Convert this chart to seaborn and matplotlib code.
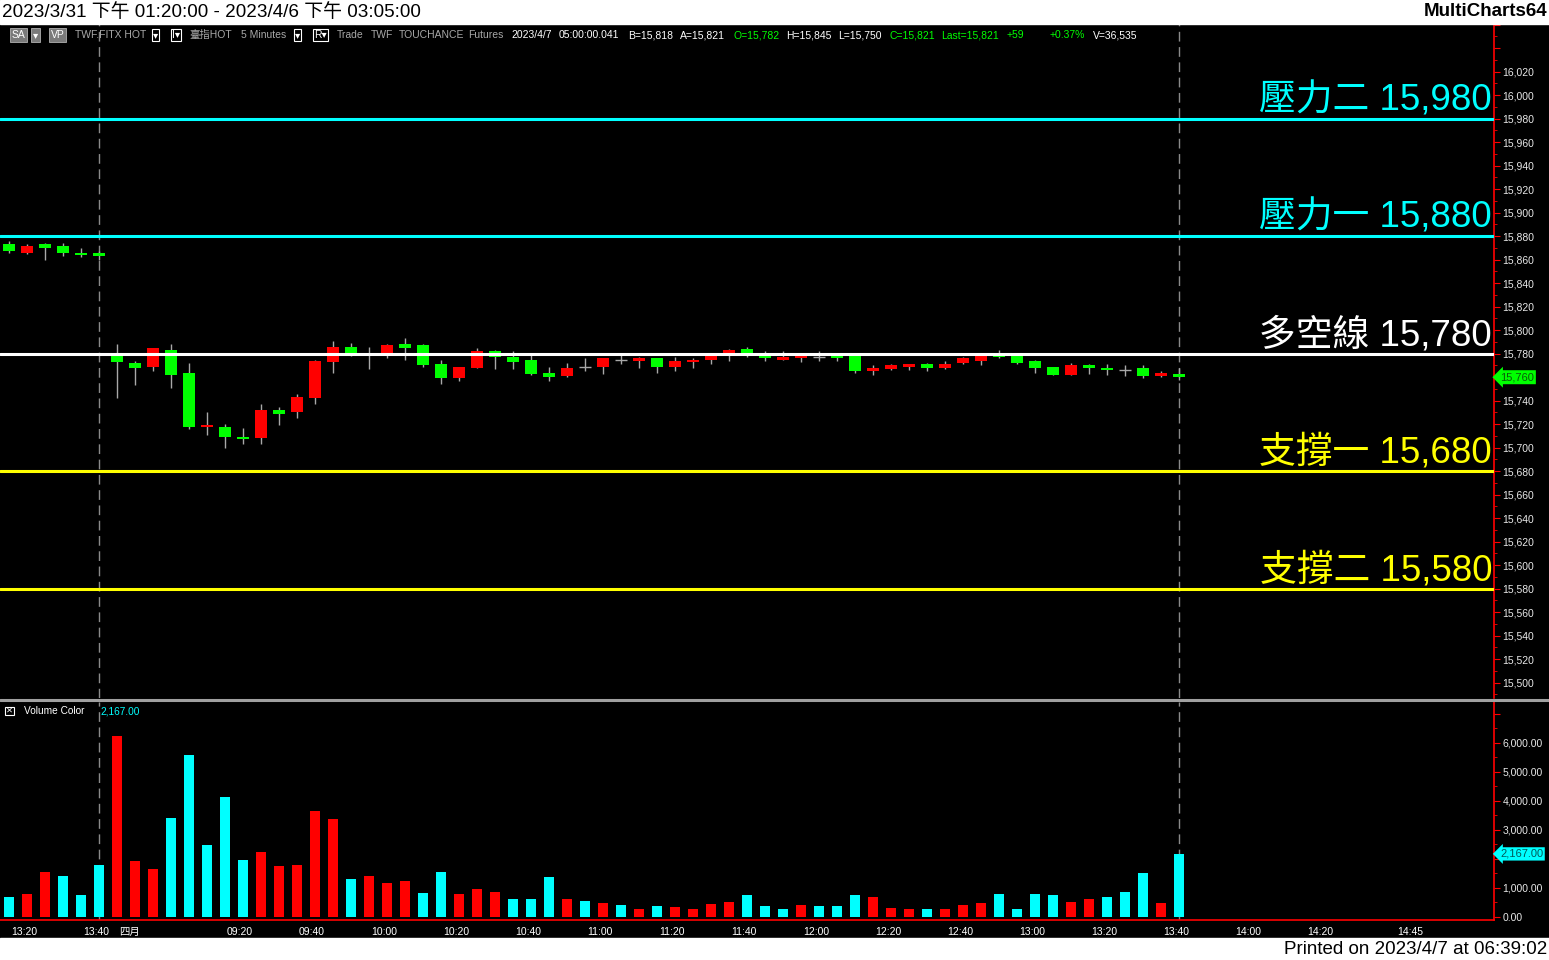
import numpy as np
import pandas as pd
import matplotlib
matplotlib.use("Agg")
import matplotlib.pyplot as plt
import matplotlib.transforms as mtransforms
from matplotlib.lines import Line2D
from matplotlib.patches import Rectangle
from matplotlib.ticker import FuncFormatter, MultipleLocator
import seaborn as sns

# 5 minute bars: 6 bars of 3/31 afternoon, then 4/6 from 08:50
opens = [15873, 15866, 15873, 15872, 15866, 15866,
         15778, 15772, 15769, 15783, 15764, 15718, 15718, 15709, 15708, 15732,
         15730, 15742, 15773, 15786, 15781, 15779, 15788, 15787, 15771, 15759,
         15768, 15782, 15777, 15775, 15764, 15761, 15769, 15769, 15775, 15774,
         15776, 15769, 15773, 15775, 15779, 15784, 15779, 15775, 15776, 15777,
         15779, 15778, 15765, 15767, 15769, 15771, 15768, 15772, 15774, 15779,
         15779, 15774, 15769, 15762, 15770, 15768, 15766, 15768, 15761, 15763]
highs = [15876, 15873, 15874, 15874, 15870, 15867,
         15788, 15774, 15785, 15788, 15772, 15730, 15720, 15717, 15737, 15735,
         15746, 15775, 15791, 15789, 15786, 15788, 15793, 15788, 15775, 15769,
         15785, 15783, 15782, 15779, 15769, 15772, 15776, 15776, 15779, 15777,
         15776, 15777, 15776, 15781, 15784, 15786, 15782, 15782, 15779, 15782,
         15780, 15780, 15770, 15771, 15771, 15772, 15774, 15777, 15780, 15783,
         15780, 15775, 15769, 15772, 15771, 15771, 15770, 15770, 15765, 15768]
lows = [15866, 15865, 15860, 15863, 15862, 15860,
        15742, 15753, 15765, 15751, 15716, 15711, 15700, 15703, 15703, 15719,
        15725, 15737, 15764, 15778, 15767, 15776, 15775, 15769, 15754, 15757,
        15768, 15767, 15767, 15762, 15757, 15760, 15765, 15763, 15771, 15768,
        15764, 15765, 15768, 15771, 15774, 15777, 15774, 15775, 15773, 15774,
        15774, 15764, 15762, 15766, 15766, 15765, 15767, 15771, 15770, 15776,
        15771, 15764, 15762, 15762, 15763, 15762, 15761, 15759, 15760, 15758]
closes = [15867, 15872, 15870, 15866, 15864, 15863,
          15773, 15768, 15785, 15762, 15718, 15719, 15709, 15707, 15732, 15729,
          15743, 15774, 15786, 15779, 15779, 15787, 15785, 15770, 15759, 15769,
          15782, 15777, 15773, 15763, 15760, 15768, 15769, 15776, 15775, 15776,
          15769, 15774, 15775, 15780, 15783, 15778, 15776, 15777, 15778, 15777,
          15776, 15765, 15768, 15770, 15771, 15768, 15771, 15776, 15779, 15777,
          15772, 15768, 15762, 15770, 15768, 15766, 15766, 15761, 15764, 15760]

volume = [690, 790, 1550, 1410, 760, 1790, 6240, 1930, 1660, 3410,
          5590, 2480, 4140, 1970, 2240, 1760, 1790, 3660, 3380, 1310,
          1410, 1170, 1240, 830, 1550, 790, 970, 860, 620, 620,
          1380, 620, 550, 480, 410, 280, 380, 340, 280, 450,
          520, 760, 380, 280, 410, 380, 380, 760, 690, 310,
          280, 280, 280, 410, 480, 790, 280, 790, 760, 520,
          620, 690, 860, 1520, 480, 2167]
# r = red bar, c = cyan bar
vol_side = list("crrcccrrrc" "ccccrrrrrc" "rrrccrrrcc" "crcrcrcrrr"
                "rcccrcccrr" "rcrrrccccr" "rcccrc")

levels = [15980, 15880, 15780, 15680, 15580]
level_names = ["壓力二", "壓力一", "多空線", "支撐一", "支撐二"]
level_colors = ["#00FFFF", "#00FFFF", "#FFFFFF", "#FFFF00", "#FFFF00"]

prev_slots = pd.date_range("2023-03-31 13:20", periods=6, freq="5min")
day_slots = pd.date_range("2023-04-06 08:50", "2023-04-06 15:10", freq="5min")
slots = prev_slots.append(day_slots)

tick_times = (["2023-03-31 13:20", "2023-03-31 13:40", "2023-04-06 08:50", "2023-04-06 09:00"]
              + [t.strftime("%Y-%m-%d %H:%M")
                 for t in pd.date_range("2023-04-06 09:20", "2023-04-06 14:20", freq="20min")]
              + ["2023-04-06 14:45"])
tick_labels = ["13:20", "13:40", "四月", ""] + [t[11:16] for t in tick_times[4:]]

toolbar = [
    (12, "SA", "white", "box"), (33, "▾", "white", "box"), (51, "VP", "white", "box"),
    (75, "TWF.FITX HOT", "#A8A8A8", None), (153, "▾", "white", "frame"),
    (172, "I▾", "white", "frame"), (189, "臺指HOT", "#A8A8A8", None),
    (241, "5 Minutes", "#A8A8A8", None), (295, "▾", "white", "frame"),
    (314, "R▾", "white", "frame"), (337, "Trade", "#A8A8A8", None),
    (371, "TWF", "#A8A8A8", None), (399, "TOUCHANCE", "#A8A8A8", None),
    (468, "Futures", "#A8A8A8", None), (511, "2023/4/7", "white", None),
    (559, "05:00:00.041", "white", None), (628, "B=15,818", "white", None),
    (680, "A=15,821", "white", None), (733, "O=15,782", "#00FF00", None),
    (786, "H=15,845", "white", None), (838, "L=15,750", "white", None),
    (889, "C=15,821", "#00FF00", None), (941, "Last=15,821", "#00FF00", None),
    (1007, "+59", "#00FF00", None), (1050, "+0.37%", "#00FF00", None),
    (1093, "V=36,535", "white", None),
]

sns.set_style("dark", {"axes.facecolor": "black", "figure.facecolor": "black"})
plt.rcParams["font.family"] = ["Liberation Sans", "Noto Sans CJK TC", "DejaVu Sans"]

W, H = 1549, 960
fig = plt.figure(figsize=(W / 100, H / 100), dpi=100, facecolor="black")

# white header / footer strips
fig.patches.append(Rectangle((0, 1 - 24 / H), 1, 24 / H, transform=fig.transFigure,
                             color="white", zorder=0))
fig.patches.append(Rectangle((0, 0), 1, 22 / H, transform=fig.transFigure,
                             color="white", zorder=0))

ax = fig.add_axes([0, (H - 698) / H, 1494 / W, (698 - 24) / H])
axv = fig.add_axes([0, (H - 920) / H, 1494 / W, (920 - 702) / H])

idx = np.arange(len(opens))
o = np.array(opens)
c = np.array(closes)

for a in (ax, axv):
    a.set_facecolor("black")
    for s in ("top", "left", "bottom"):
        a.spines[s].set_visible(False)
    a.spines["right"].set_color("#FF0000")
    a.spines["right"].set_linewidth(1.2)
    a.yaxis.tick_right()
    a.tick_params(axis="y", which="both", colors="#FF0000", labelcolor="#E8E8E8",
                  labelsize=7.5, direction="out", pad=2)
    a.tick_params(axis="y", which="major", length=4)
    a.tick_params(axis="y", which="minor", length=2)
    a.axvline(5, color="#8A8A8A", lw=1, ls=(0, (7, 4)), zorder=1)
    a.axvline(len(opens) - 1, color="#8A8A8A", lw=1, ls=(0, (7, 4)), zorder=1)
    a.grid(False)

# candles
ax.vlines(idx, lows, highs, color="#A8A8A8", lw=1, zorder=2)
up = c > o
dn = c < o
flat = c == o
body_h = np.maximum(np.abs(c - o), 1.6)
body_b = np.minimum(c, o)
ax.bar(idx[up], body_h[up], bottom=body_b[up], width=0.72, color="#FF0000",
       linewidth=0, zorder=3)
ax.bar(idx[dn], body_h[dn], bottom=body_b[dn], width=0.72, color="#00FF00",
       linewidth=0, zorder=3)
ax.hlines(c[flat], idx[flat] - 0.36, idx[flat] + 0.36, color="#A8A8A8", lw=1, zorder=3)

for lv, name, col in zip(levels, level_names, level_colors):
    ax.axhline(lv, color=col, lw=2.2, zorder=4)
    ax.text(0.9987, lv + 7, f"{name} {lv:,}", transform=ax.get_yaxis_transform(),
            ha="right", va="baseline", fontsize=26.5, color=col, zorder=5,
            fontweight="light")

last_px = closes[-1]
ax.set_xlim(-0.5, 82.5)
ax.set_ylim(15487, 16060.6)
ax.set_xticks([])
ax.yaxis.set_major_locator(MultipleLocator(20))
ax.yaxis.set_minor_locator(MultipleLocator(10))
ax.yaxis.set_major_formatter(FuncFormatter(
    lambda v, p: f"{v:,.0f}" if 15500 <= v <= 16020 and abs(v - last_px) > 8 else ""))
ax.text(1.004, last_px, f"{last_px:,}", transform=ax.get_yaxis_transform(),
        ha="left", va="center", fontsize=8, color="#0B5A0B", clip_on=False, zorder=6,
        bbox=dict(boxstyle="larrow,pad=0.18", fc="#00FF00", ec="none"))

# volume
vol_df = pd.DataFrame({"bar": idx, "volume": volume,
                       "side": ["up" if s == "r" else "down" for s in vol_side]})
sns.barplot(data=vol_df, x="bar", y="volume", hue="side", native_scale=True,
            palette={"up": "#FF0000", "down": "#00FFFF"}, width=0.61, dodge=False,
            errorbar=None, saturation=1, linewidth=0, legend=False, ax=axv, zorder=3)
last_vol = volume[-1]
axv.set_xlim(-0.5, 82.5)
axv.set_ylim(-110, 7400)
axv.set_xlabel("")
axv.set_ylabel("")
axv.spines["bottom"].set_visible(True)
axv.spines["bottom"].set_color("#FF0000")
axv.spines["bottom"].set_linewidth(1.2)
axv.yaxis.set_major_locator(MultipleLocator(1000))
axv.yaxis.set_minor_locator(MultipleLocator(500))
axv.yaxis.set_major_formatter(FuncFormatter(
    lambda v, p: f"{v:,.2f}" if 0 <= v <= 6000 and abs(v - last_vol) > 400 else ""))
axv.set_xticks(slots.get_indexer(pd.to_datetime(tick_times)))
axv.set_xticklabels(tick_labels, ha="left")
axv.tick_params(axis="x", colors="#FF0000", labelcolor="white", labelsize=7.5,
                length=3, direction="out", pad=2)
shift = mtransforms.ScaledTranslation(2 / 100, 0, fig.dpi_scale_trans)
for lab in axv.get_xticklabels():
    lab.set_transform(lab.get_transform() + shift)
axv.text(1.004, last_vol, f"{last_vol:,.2f}", transform=axv.get_yaxis_transform(),
         ha="left", va="center", fontsize=8, color="#005A5A", clip_on=False, zorder=6,
         bbox=dict(boxstyle="larrow,pad=0.15", fc="#00FFFF", ec="none"))

# panel separator
fig.add_artist(Line2D([0, 1], [(H - 699.5) / H] * 2, transform=fig.transFigure,
                      color="#A0A0A0", lw=2.2))

# header / footer text
fig.text(2 / W, 1 - 12 / H, "2023/3/31 下午 01:20:00 - 2023/4/6 下午 03:05:00",
         fontsize=13.6, color="black", va="center", ha="left")
fig.text(1547 / W, 1 - 12 / H, "MultiCharts64", fontsize=13.5, color="black",
         fontweight="bold", va="center", ha="right")
fig.text(1547 / W, 11 / H, "Printed on 2023/4/7 at 06:39:02", fontsize=13.5,
         color="black", va="center", ha="right")

for xp, txt, col, kind in toolbar:
    kw = {}
    if kind == "box":
        kw["bbox"] = dict(boxstyle="square,pad=0.15", fc="#7A7A7A", ec="#B0B0B0", lw=0.6)
    elif kind == "frame":
        kw["bbox"] = dict(boxstyle="square,pad=0.1", fc="black", ec="white", lw=0.8)
    fig.text(xp / W, 1 - 35 / H, txt, fontsize=7.5, color=col, va="center", ha="left", **kw)

fig.text(6 / W, 1 - 711 / H, "✕", fontsize=6, color="white", va="center", ha="left",
         bbox=dict(boxstyle="square,pad=0.1", fc="black", ec="white", lw=0.8))
fig.text(24 / W, 1 - 711 / H, "Volume Color", fontsize=7.3, color="white", va="center")
fig.text(100 / W, 1 - 711 / H, "2,167.00", fontsize=7.3, color="#00FFFF", va="center")

fig.savefig("out.png", dpi=100, facecolor="black")
